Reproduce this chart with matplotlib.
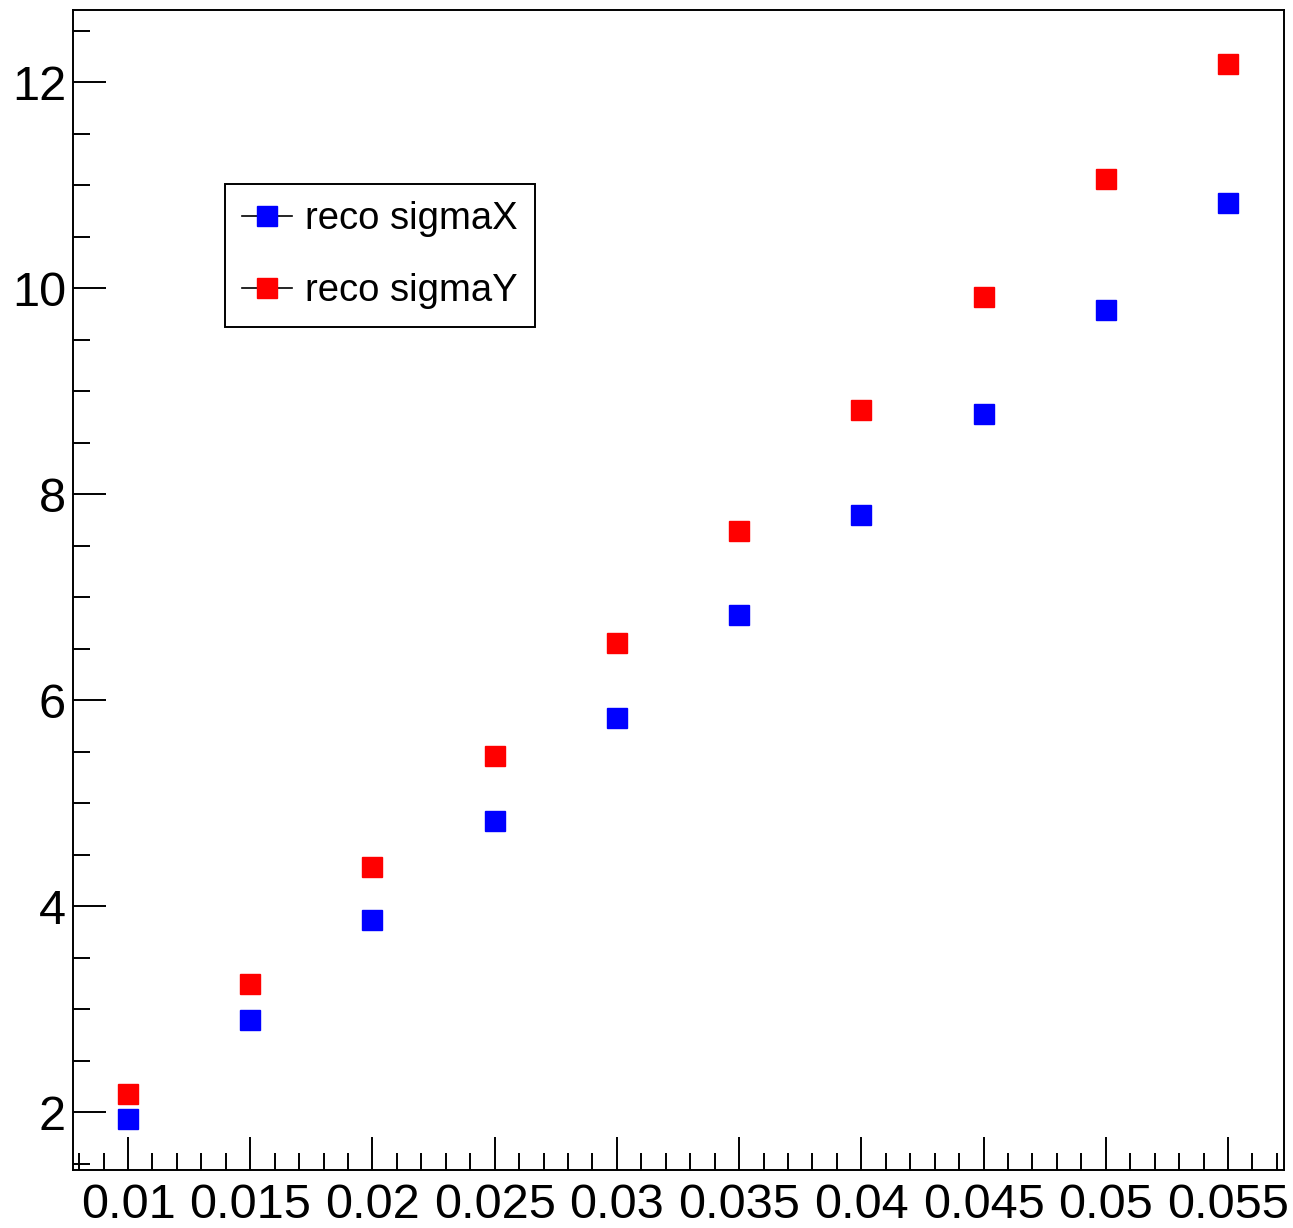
import matplotlib.pyplot as plt
from matplotlib.lines import Line2D
from matplotlib.ticker import MultipleLocator, FormatStrFormatter

plt.rcParams['font.family'] = ['Liberation Sans', 'DejaVu Sans']

seuil = [0.01, 0.015, 0.02, 0.025, 0.03, 0.035, 0.04, 0.045, 0.05, 0.055]
sigma_x = [1.94, 2.90, 3.87, 4.83, 5.83, 6.83, 7.80, 8.78, 9.79, 10.83]
sigma_y = [2.18, 3.25, 4.38, 5.46, 6.56, 7.64, 8.82, 9.91, 11.06, 12.18]

fig = plt.figure(figsize=(12.93, 12.28), dpi=100)
ax = fig.add_axes([0.0565, 0.0472, 0.9365, 0.9447])

ax.plot(seuil, sigma_x, ls='none', marker='s', ms=15, color='#0000ff', mec='#0000ff')
ax.plot(seuil, sigma_y, ls='none', marker='s', ms=15, color='#ff0000', mec='#ff0000')

ax.set_xlim(0.00775, 0.05729)
ax.set_ylim(1.44, 12.70)

ax.xaxis.set_major_locator(MultipleLocator(0.005))
ax.xaxis.set_minor_locator(MultipleLocator(0.001))
ax.yaxis.set_major_locator(MultipleLocator(2))
ax.yaxis.set_minor_locator(MultipleLocator(0.5))
ax.xaxis.set_major_formatter(FormatStrFormatter('%g'))
ax.yaxis.set_major_formatter(FormatStrFormatter('%g'))

ax.tick_params(which='both', direction='in', top=False, right=False, width=1.4, labelsize=35)
ax.tick_params(which='major', length=24)
ax.tick_params(which='minor', length=12)
ax.tick_params(axis='x', pad=9)
ax.tick_params(axis='y', pad=5)
for sp in ax.spines.values():
    sp.set_linewidth(1.4)

poignees = [
    Line2D([], [], color='black', lw=1.2, marker='s', ms=15, mfc='#0000ff', mec='#0000ff'),
    Line2D([], [], color='black', lw=1.2, marker='s', ms=15, mfc='#ff0000', mec='#ff0000'),
]
leg = ax.legend(poignees, ['reco sigmaX', 'reco sigmaY'], loc='upper left',
                bbox_to_anchor=(0.1255, 0.85), borderaxespad=0, fontsize=27.5,
                fancybox=False, edgecolor='black', framealpha=1, handlelength=1.3,
                labelspacing=0.95, borderpad=0.45, handletextpad=0.35)
leg.get_frame().set_linewidth(1.4)

fig.savefig('out.png', dpi=100)
